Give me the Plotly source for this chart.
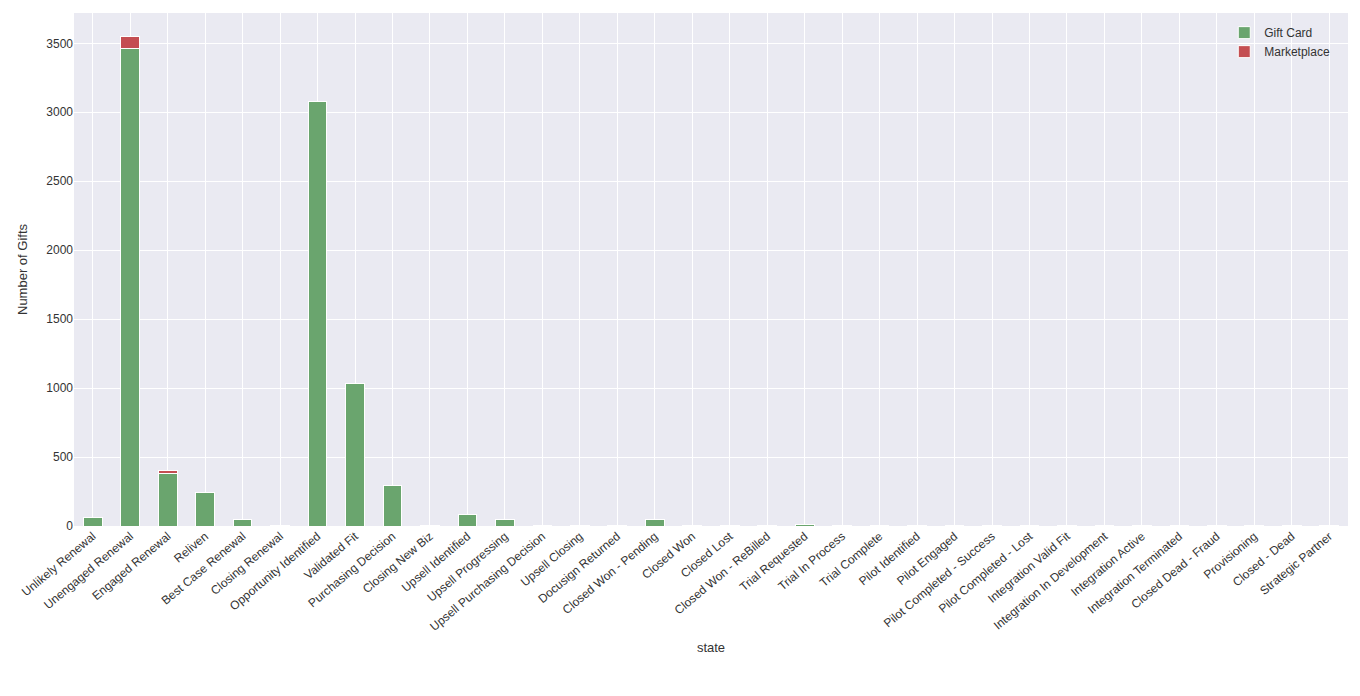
import plotly.graph_objects as go

states = ["Unlikely Renewal", "Unengaged Renewal", "Engaged Renewal", "Reliven", "Best Case Renewal",
          "Closing Renewal", "Opportunity Identified", "Validated Fit", "Purchasing Decision", "Closing New Biz",
          "Upsell Identified", "Upsell Progressing", "Upsell Purchasing Decision", "Upsell Closing",
          "Docusign Returned", "Closed Won - Pending", "Closed Won", "Closed Lost", "Closed Won - ReBilled",
          "Trial Requested", "Trial In Process", "Trial Complete", "Pilot Identified", "Pilot Engaged",
          "Pilot Completed - Success", "Pilot Completed - Lost", "Integration Valid Fit",
          "Integration In Development", "Integration Active", "Integration Terminated", "Closed Dead - Fraud",
          "Provisioning", "Closed - Dead", "Strategic Partner"]
gift_card = [60, 3460, 380, 245, 50, 5, 3075, 1035, 295, 5, 85, 45, 5, 5, 2, 45, 2, 2, 2, 10, 5,
             1, 1, 1, 1, 1, 1, 1, 1, 1, 1, 1, 1, 1]
marketplace = [0, 90, 20, 0, 0, 0, 0, 0, 0, 0, 0, 0, 0, 0, 0, 0, 0, 0, 0, 0, 0,
               0, 0, 0, 0, 0, 0, 0, 0, 0, 0, 0, 0, 0]

fig = go.Figure()
fig.add_trace(go.Bar(x=states, y=gift_card, name="Gift Card", marker_color="#6aa56e",
                     marker_line=dict(color="white", width=1)))
fig.add_trace(go.Bar(x=states, y=marketplace, name="Marketplace", marker_color="#c44e52",
                     marker_line=dict(color="white", width=1)))
fig.update_layout(
    barmode="stack", bargap=0.5, width=1360, height=696,
    paper_bgcolor="white", plot_bgcolor="#EAEAF2",
    font=dict(family="Liberation Sans, Arial", size=12, color="#333"),
    margin=dict(l=66, r=20, t=5, b=178),
    legend=dict(x=0.99, y=0.99, xanchor="right", yanchor="top", bgcolor="rgba(0,0,0,0)",
                traceorder="normal", font=dict(size=12)),
)
fig.update_xaxes(title_text="state", tickangle=-40, showgrid=True, gridcolor="white",
                 ticks="", automargin=False, title_standoff=10,
                 title_font=dict(size=13), tickfont=dict(size=12))
fig.update_yaxes(title_text="Number of Gifts", range=[0, 3720], dtick=500, gridcolor="white",
                 zeroline=False, automargin=False, tickfont=dict(size=12), title_font=dict(size=13))
fig.write_html("out.html")
